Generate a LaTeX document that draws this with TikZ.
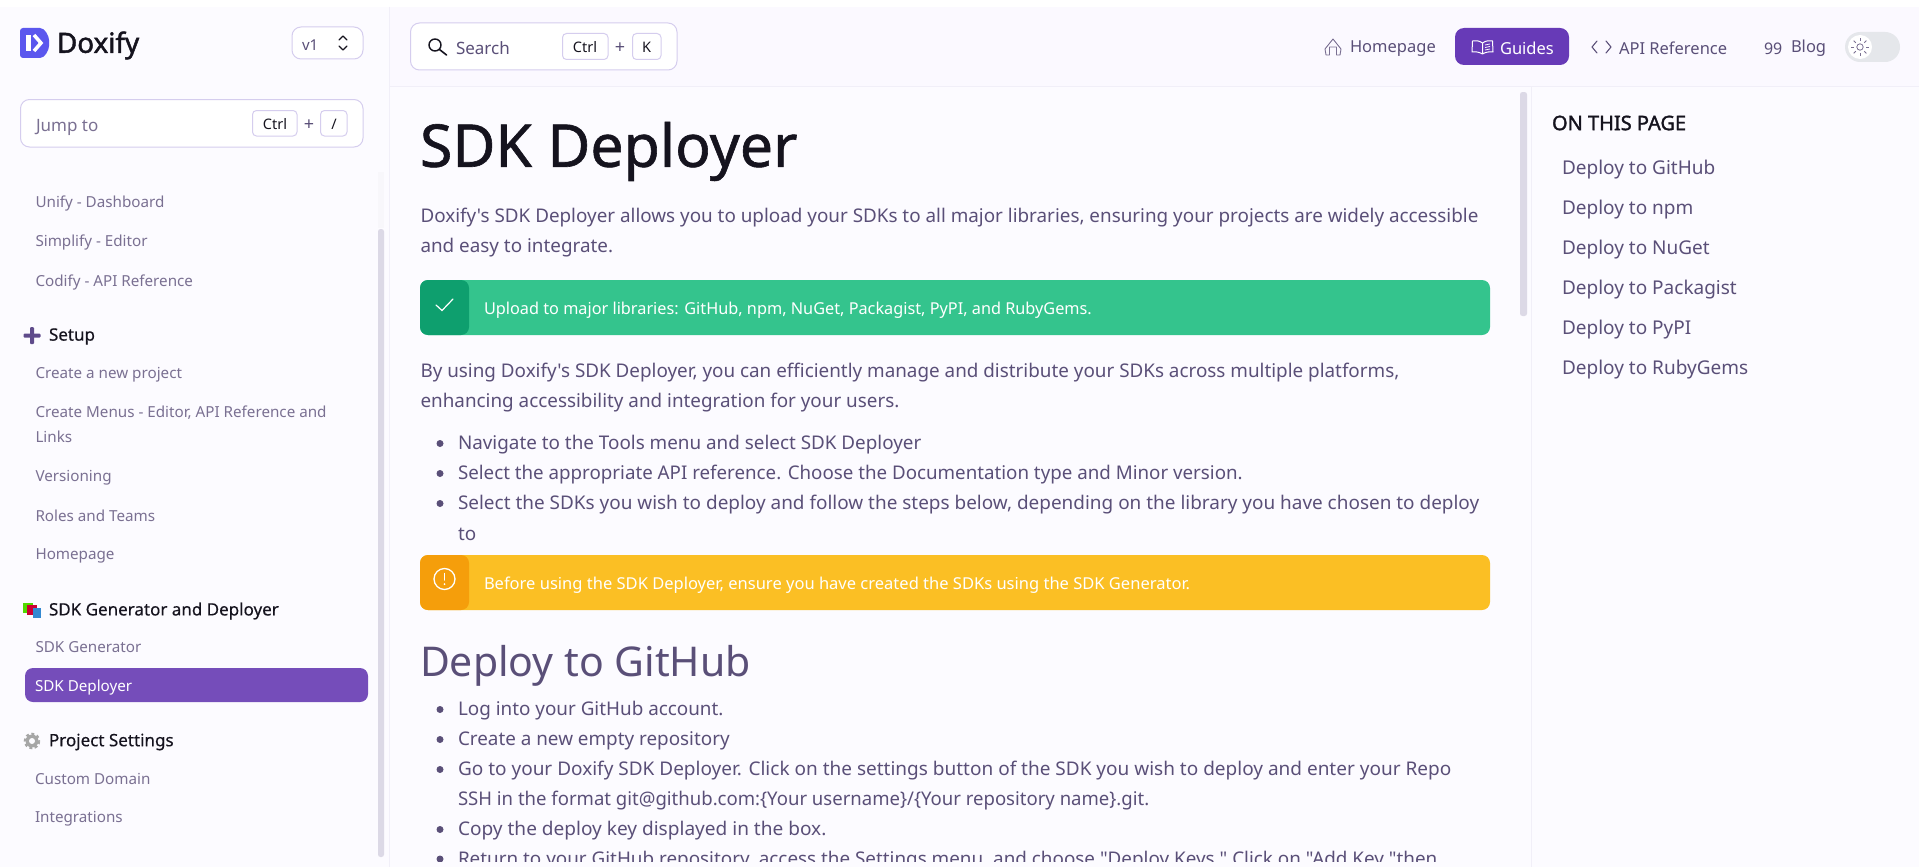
\documentclass[tikz,border=0pt]{standalone}
\usepackage{fontspec}
\setmainfont{Noto Sans}[Ligatures=TeXOff]
\newfontfamily\boldf{Noto Sans}[FakeBold=1.6]
\newfontfamily\semif{Noto Sans}[FakeBold=1.0]
\newfontfamily\medf{Noto Sans}[FakeBold=0.35]
\newcommand{\hs}[2]{\scalebox{#1}[1]{#2}}
\usetikzlibrary{calc}
\definecolor{pagebg}{HTML}{FCFBFF}
\definecolor{headbg}{HTML}{FBF9FF}
\definecolor{rulec}{HTML}{F1EFF8}
\definecolor{bordc}{HTML}{D5CDEE}
\definecolor{bodyc}{HTML}{5A4F78}
\definecolor{sidec}{HTML}{7A7092}
\definecolor{inkc}{HTML}{15131E}
\definecolor{thumbc}{HTML}{DCD9E6}
\definecolor{trackc}{HTML}{F8F7FB}
\definecolor{pillside}{HTML}{754DBA}
\definecolor{pillhead}{HTML}{673AB7}
\definecolor{greenl}{HTML}{34C48D}
\definecolor{greend}{HTML}{0E9F6E}
\definecolor{ambl}{HTML}{FBBF24}
\definecolor{ambd}{HTML}{F59E0B}
\definecolor{logoc}{HTML}{5B57EE}
\definecolor{togglec}{HTML}{E5E7EB}
\definecolor{plusc}{HTML}{5F4B8B}
\tikzset{x=1pt,y=-1pt,
 lbl/.style={anchor=west,inner sep=0pt,outer sep=0pt,text=#1,yshift=-1.5pt},lbl/.default=bodyc,
 body/.style={lbl=bodyc,font=\fontsize{18.85}{20}\selectfont},
 side/.style={lbl=sidec,font=\fontsize{15.2}{16}\selectfont},
 sect/.style={lbl=inkc,font=\medf\fontsize{17}{18}\selectfont},
 nav/.style={lbl=bodyc,font=\fontsize{16.5}{18}\selectfont},
 toc/.style={lbl=bodyc,font=\fontsize{19}{20}\selectfont},
 bannertext/.style={lbl=white,font=\fontsize{16.4}{18}\selectfont},
 field/.style={draw=bordc,line width=1pt,fill=white,rounded corners=9pt},
 keycap/.style={draw=bordc,line width=1pt,fill=white,rounded corners=4pt},
 keytxt/.style={inner sep=0pt,text=inkc,font=\fontsize{14.5}{16}\selectfont},
 bul/.style={fill=bodyc,circle,inner sep=0pt,minimum size=7pt},
 ico/.style={draw=bodyc,line width=1pt,line cap=round,line join=round},
}
\begin{document}
\begin{tikzpicture}
\useasboundingbox (0,0) rectangle (1919,867);
\fill[white] (0,0) rectangle (1919,867);
\fill[pagebg] (0,7) rectangle (1919,867);
\fill[headbg] (390,7) rectangle (1919,86);
\draw[rulec,line width=1pt] (390,86) -- (1919,86);
\draw[rulec,line width=1pt] (389.5,7) -- (389.5,867);
\draw[rulec,line width=1pt] (1531.5,86) -- (1531.5,867);
% scrollbars
\fill[trackc] (378,172) rectangle (384,228);
\fill[thumbc,rounded corners=2.5pt] (378,229) rectangle (384,857);
\fill[thumbc,rounded corners=2.5pt] (1520,92) rectangle (1527,316);
% logo
\fill[logoc,rounded corners=3pt] (20,28) -- (37,28) .. controls (45,28) and (49,36) .. (49,43) .. controls (49,50) and (45,58) .. (37,58) -- (20,58) -- cycle;
\fill[white] (26,35) rectangle (30.5,51);
\draw[white,line width=3.5pt] (34,35) -- (41,43) -- (34,51);
\node[lbl=inkc,font=\boldf\fontsize{27.8}{28}\selectfont] (brand) at (57,44) {Doxify};
% version
\draw[field] (292,27) rectangle (363,59);
\node[lbl=bodyc,font=\fontsize{15}{16}\selectfont] (ver) at (302,44) {v1};
\draw[ico,draw=inkc,line width=1.1pt] (339,40) -- (343,36) -- (347,40) (339,46) -- (343,50) -- (347,46);
% jump
\draw[field] (20.5,99.5) rectangle (363,147);
\node[side,font=\fontsize{17}{18}\selectfont] (jump) at (36,126) {Jump to};
\draw[keycap] (252.5,110.5) rectangle (297,136);
\node[keytxt] (jc) at (275,124) {Ctrl};
\node[keytxt,text=bodyc,font=\fontsize{18}{18}\selectfont] (jp) at (309,125) {+};
\draw[keycap] (320.5,110.5) rectangle (347,136);
\node[keytxt] (js) at (334,124) {/};
% search
\draw[field,draw=bordc] (410.5,23) rectangle (677,70);
\draw[ico,draw=inkc,line width=1.4pt] (435,45) circle (6);
\draw[ico,draw=inkc,line width=1.6pt] (439.5,49.5) -- (446.5,55);
\node[side,font=\fontsize{17}{18}\selectfont,text=bodyc] (search) at (456,47) {Search};
\draw[keycap] (562.5,33.5) rectangle (608,59.5);
\node[keytxt] (sc) at (585,47) {Ctrl};
\node[keytxt,text=bodyc,font=\fontsize{18}{18}\selectfont] (sp) at (620,48) {+};
\draw[keycap] (632.5,33.5) rectangle (661,59.5);
\node[keytxt] (sk) at (646.5,47) {K};
% nav
\draw[ico,line width=.9pt,draw=sidec] (1325,49) -- (1333,39) -- (1341,49) -- (1340,55) -- (1336.5,55) -- (1336.5,47) -- (1329.5,47) -- (1329.5,55) -- (1326,55) -- cycle;
\node[nav] (home) at (1350,47) {Homepage};
\fill[pillhead,rounded corners=9pt] (1455,28) rectangle (1569,65);
\draw[ico,draw=white] (1482.5,43) .. controls (1479,40.5) and (1476,40.5) .. (1472.5,41) -- (1472,52) .. controls (1476,51.5) and (1479,52) .. (1482.5,54) .. controls (1486,52) and (1489,51.5) .. (1493,52) -- (1492.5,41) .. controls (1489,40.5) and (1486,40.5) .. (1482.5,43) -- (1482.5,54);
\draw[white,line width=.7pt] (1485,45) -- (1490,44) (1485,47.5) -- (1490,46.5) (1485,50) -- (1490,49);
\node[nav,text=white] (guides) at (1500,47) {Guides};
\draw[ico,line width=1.1pt] (1597,41) -- (1592,47) -- (1597,53) (1606,41) -- (1611,47) -- (1606,53);
\node[nav] (api) at (1619,47) {API Reference};
\node[lbl=bodyc,font=\fontsize{16}{18}\selectfont] (quote) at (1764,47) {99};
\node[nav] (blog) at (1791,47) {Blog};
\fill[togglec,rounded corners=15pt] (1845,32) rectangle (1900,62);
\fill[white] (1860,47) circle (12);
\draw[sidec,line width=.8pt] (1860,47) circle (3.2);
\foreach \a in {0,45,...,315}{\draw[sidec,line width=.8pt] ($(1860,47)+(\a:6)$) -- ($(1860,47)+(\a:9)$);}
% clip body
\begin{scope}
\clip (392,87) rectangle (1519,861);
\node[lbl=inkc,font=\semif\fontsize{59}{64}\selectfont] (title) at (420,150) {SDK Deployer};
\node[body] (p1a) at (420.5,216) {Doxify's SDK Deployer allows you to upload your SDKs to all major libraries, ensuring your projects are widely accessible};
\node[body] (p1b) at (420.5,246) {and easy to integrate.};
\fill[greenl,rounded corners=8pt] (420,280) rectangle (1490,335);
\fill[greend,rounded corners=8pt] (420,280) -- (469,280) -- (469,335) -- (420,335) -- cycle;
\draw[white,line width=1.2pt,line cap=round] (436,305) -- (442,310.5) -- (453,299);
\node[bannertext] (b1) at (484,309) {\hs{.992}{Upload to major libraries: GitHub, npm, NuGet, Packagist, PyPI, and RubyGems.}};
\node[body] (p2a) at (420.5,371) {By using Doxify's SDK Deployer, you can efficiently manage and distribute your SDKs across multiple platforms,};
\node[body] (p2b) at (420.5,401) {enhancing accessibility and integration for your users.};
\node[bul] (d1) at (440,443.5) {};
\node[body] (l1) at (458,443) {Navigate to the Tools menu and select SDK Deployer};
\node[bul] (d2) at (440,473.5) {};
\node[body] (l2) at (458,473) {\hs{.994}{Select the appropriate API reference. Choose the Documentation type and Minor version.}};
\node[bul] (d3) at (440,503.5) {};
\node[body] (l3) at (458,503) {\hs{1.005}{Select the SDKs you wish to deploy and follow the steps below, depending on the library you have chosen to deploy}};
\node[body] (l3b) at (458,533) {to};
\fill[ambl,rounded corners=8pt] (420,555) rectangle (1490,610);
\fill[ambd,rounded corners=8pt] (420,555) -- (469,555) -- (469,610) -- (420,610) -- cycle;
\draw[white,line width=1.3pt] (444.5,579) circle (10.5);
\draw[white,line width=1.5pt,line cap=round] (444.5,573.5) -- (444.5,580);
\fill[white] (444.5,584) circle (1);
\node[bannertext] (b2) at (484,584) {\hs{1.007}{Before using the SDK Deployer, ensure you have created the SDKs using the SDK Generator.}};
\node[lbl=bodyc,font=\fontsize{41}{44}\selectfont] (h2) at (420,664) {Deploy to GitHub};
\node[bul] (g1) at (440,709.5) {};
\node[body] (m1) at (458,709) {Log into your GitHub account.};
\node[bul] (g2) at (440,739.5) {};
\node[body] (m2) at (458,739) {Create a new empty repository};
\node[bul] (g3) at (440,769.5) {};
\node[body] (m3) at (458,769) {\hs{1.008}{Go to your Doxify SDK Deployer. Click on the settings button of the SDK you wish to deploy and enter your Repo}};
\node[body] (m3b) at (458,799) {\hs{.984}{SSH in the format git@github.com:\{Your username\}/\{Your repository name\}.git.}};
\node[bul] (g4) at (440,829.5) {};
\node[body] (m4) at (458,829) {\hs{1.011}{Copy the deploy key displayed in the box.}};
\node[bul] (g5) at (440,859) {};
\node[body] (m5) at (458,864) {\smash{Return to your GitHub repository, access the Settings menu, and choose "Deploy Keys." Click on "Add Key "then}};
\end{scope}
% sidebar
\node[side] (s1) at (35.5,202) {Unify - Dashboard};
\node[side] (s2) at (35.5,241) {Simplify - Editor};
\node[side] (s3) at (35.5,281) {Codify - API Reference};
\fill[plusc,rounded corners=1pt] (23.5,333.5) rectangle (40.5,337.5);
\fill[plusc,rounded corners=1pt] (30,327) rectangle (34,344);
\node[sect] (setup) at (49,335) {Setup};
\node[side] (s4) at (35.5,373) {Create a new project};
\node[side] (s5) at (35.5,411.5) {Create Menus - Editor, API Reference and};
\node[side] (s5b) at (35.5,435) {Links};
\node[side] (s6) at (35.5,476) {Versioning};
\node[side] (s7) at (35.5,514) {Roles and Teams};
\node[side] (s8) at (35.5,554) {Homepage};
\fill[green!50!lime!85!black] (23,603) rectangle (33,613);
\fill[purple!80!red] (27,605) rectangle (37,615);
\fill[cyan!60!blue!85] (33,608) rectangle (41,618);
\node[sect] (sdk) at (49,609.5) {SDK Generator and Deployer};
\node[side] (s9) at (35.5,645.5) {SDK Generator};
\fill[pillside,rounded corners=8pt] (25,668) rectangle (368,702);
\node[side,text=white] (s10) at (35,686) {SDK Deployer};
\draw[gray!70,line width=3.5pt,dash pattern=on 2.6pt off 2.4pt] (32,741) circle (6.5);
\fill[gray!70] (32,741) circle (6.5);
\fill[pagebg] (32,741) circle (3);
\node[sect] (proj) at (49,740.5) {Project Settings};
\node[side] (s11) at (35,777.5) {Custom Domain};
\node[side] (s12) at (35,817) {Integrations};
% toc
\node[lbl=inkc,font=\boldf\fontsize{20}{20}\selectfont] (otp) at (1552,121.5) {ON THIS PAGE};
\node[toc] (t1) at (1562,168) {Deploy to GitHub};
\node[toc] (t2) at (1562,208) {Deploy to npm};
\node[toc] (t3) at (1562,248) {Deploy to NuGet};
\node[toc] (t4) at (1562,288) {Deploy to Packagist};
\node[toc] (t5) at (1562,328) {Deploy to PyPI};
\node[toc] (t6) at (1562,368) {Deploy to RubyGems};
\end{tikzpicture}
\end{document}
